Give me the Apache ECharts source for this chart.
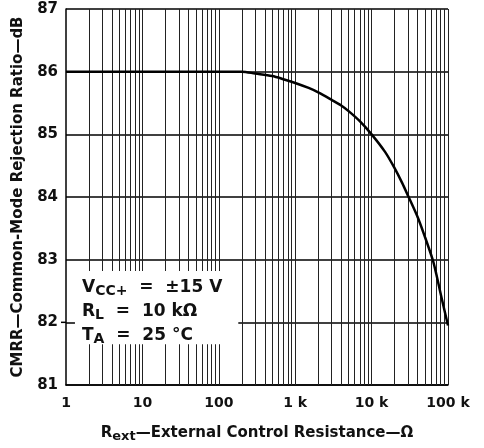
<!DOCTYPE html>
<html>
<head>
<meta charset="utf-8">
<script src="https://cdn.jsdelivr.net/npm/echarts@6/dist/echarts.min.js"></script>
<style>
html,body{margin:0;padding:0;background:#fff;}
#c{width:484px;height:448px;}
</style>
</head>
<body>
<div id="c"></div>
<script>
// Data
var rext = [1, 10, 100, 200, 300, 500, 700, 1000, 1500, 2000, 3000, 4000, 5000, 7000, 10000, 15000, 20000, 25000, 30000, 40000, 50000, 63000, 70000, 80000, 90000, 100000];
var cmrr = [86, 86, 86, 86, 85.97, 85.93, 85.88, 85.82, 85.74, 85.67, 85.55, 85.46, 85.37, 85.21, 85.0, 84.72, 84.46, 84.23, 84.02, 83.68, 83.36, 83.0, 82.78, 82.46, 82.19, 81.95];
var xTickLabels = ['1', '10', '100', '1 k', '10 k', '100 k'];
var decades = [1, 10, 100, 1000, 10000];
var mantissas = [1, 2, 3, 4, 5, 6, 7, 8, 9];

var gridXs = [];
decades.forEach(function (d) { mantissas.forEach(function (m) { if (d * m > 1) gridXs.push(d * m); }); });
gridXs.push(100000);

var FONT = 'DejaVu Sans';
var chart = echarts.init(document.getElementById('c'), null, {renderer: 'canvas'});

var option = {
  animation: false,
  backgroundColor: '#fff',
  grid: {left: 66, right: 36, top: 9, bottom: 56, containLabel: false},
  xAxis: {
    type: 'log', logBase: 10, min: 1, max: 100000,
    axisLine: {show: true, lineStyle: {color: '#000', width: 1.5}},
    axisTick: {show: false},
    splitLine: {show: false},
    axisLabel: {
      margin: 11, color: '#111', fontFamily: FONT, fontWeight: 'bold', fontSize: 14,
      formatter: function (v) { var i = Math.round(Math.log10(v)); return xTickLabels[i] || ''; }
    },
    name: '{m|R}{s|ext}{m|—External Control Resistance—Ω}',
    nameLocation: 'middle', nameGap: 38,
    nameTextStyle: {
      color: '#111', fontFamily: FONT, fontWeight: 'bold',
      rich: {
        m: {fontSize: 15, fontFamily: FONT, fontWeight: 'bold', color: '#111', lineHeight: 20},
        s: {fontSize: 13, fontFamily: FONT, fontWeight: 'bold', color: '#111', lineHeight: 12, verticalAlign: 'bottom'}
      }
    }
  },
  yAxis: {
    type: 'value', min: 81, max: 87, interval: 1,
    axisLine: {show: true, lineStyle: {color: '#000', width: 1.5}},
    axisTick: {show: false},
    splitLine: {show: true, lineStyle: {color: '#000', width: 1.5}},
    axisLabel: {margin: 8, color: '#111', fontFamily: FONT, fontWeight: 'bold', fontSize: 15},
    name: 'CMRR—Common-Mode Rejection Ratio—dB',
    nameLocation: 'middle', nameGap: 40,
    nameTextStyle: {color: '#111', fontFamily: FONT, fontWeight: 'bold', fontSize: 15}
  },
  series: [
    {
      type: 'line', data: [], z: 1, silent: true,
      markLine: {
        z: 1,
        silent: true, symbol: 'none', animation: false,
        label: {show: false},
        lineStyle: {color: '#222', width: 1, type: 'solid'},
        emphasis: {disabled: true},
        data: gridXs.map(function (v) { return {xAxis: v}; })
      }
    },
    {
      type: 'line', data: [], z: 3, silent: true,
      markArea: {
        z: 4,
        silent: true,
        itemStyle: {color: '#fff', opacity: 1},
        label: {show: false},
        emphasis: {disabled: true},
        data: [[{coord: [1.31, 82.82]}, {coord: [180, 81.65]}]]
      }
    },
    {
      type: 'line', z: 6,
      data: rext.map(function (x, i) { return [x, cmrr[i]]; }),
      smooth: 0.3,
      showSymbol: false, symbol: 'none',
      lineStyle: {color: '#000', width: 2.5},
      silent: true
    }
  ],
  graphic: [
    {
      type: 'line', z: 100, silent: true,
      shape: {x1: 61, y1: 0, x2: 67, y2: 0},
      style: {stroke: '#000', lineWidth: 1.5}
    },
    {
      type: 'text', left: 82, top: 279, z: 100,
      style: {
        text: '{m|V}{s|CC+}{m|  =  ±15 V}',
        rich: {
          m: {fontSize: 17, fontFamily: FONT, fontWeight: 'bold', fill: '#111', lineHeight: 22},
          s: {fontSize: 14, fontFamily: FONT, fontWeight: 'bold', fill: '#111', lineHeight: 14, verticalAlign: 'bottom'}
        }
      }
    },
    {
      type: 'text', left: 82, top: 303, z: 100,
      style: {
        text: '{m|R}{s|L}{m|  =  10 kΩ}',
        rich: {
          m: {fontSize: 17, fontFamily: FONT, fontWeight: 'bold', fill: '#111', lineHeight: 22},
          s: {fontSize: 14, fontFamily: FONT, fontWeight: 'bold', fill: '#111', lineHeight: 14, verticalAlign: 'bottom'}
        }
      }
    },
    {
      type: 'text', left: 82, top: 327, z: 100,
      style: {
        text: '{m|T}{s|A}{m|  =  25 °C}',
        rich: {
          m: {fontSize: 17, fontFamily: FONT, fontWeight: 'bold', fill: '#111', lineHeight: 22},
          s: {fontSize: 14, fontFamily: FONT, fontWeight: 'bold', fill: '#111', lineHeight: 14, verticalAlign: 'bottom'}
        }
      }
    }
  ]
};
chart.setOption(option);
// place the small outside tick at y = 82 using the axis scale
var p = chart.convertToPixel({gridIndex: 0}, [1, 82]);
chart.setOption({graphic: [{shape: {x1: p[0] - 5, y1: p[1], x2: p[0], y2: p[1]}}]});
</script>
</body>
</html>
